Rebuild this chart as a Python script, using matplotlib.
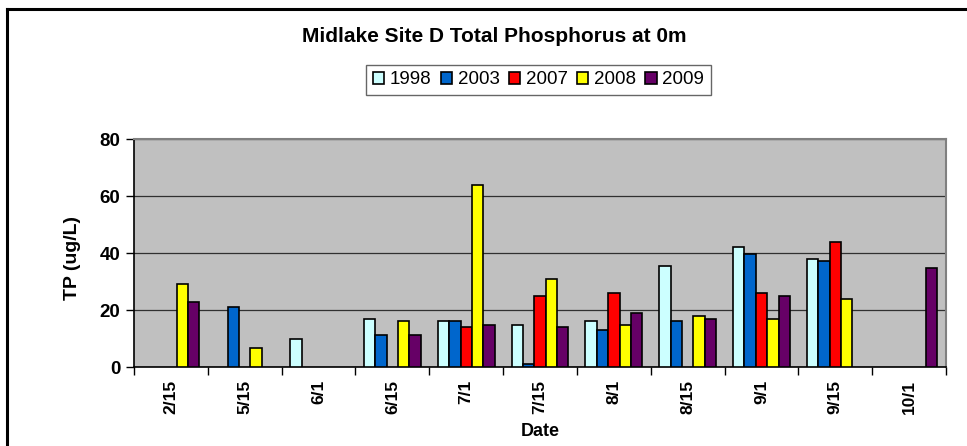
import numpy as np
import matplotlib
matplotlib.use('Agg')
import matplotlib.pyplot as plt
from matplotlib.lines import Line2D

plt.rcParams['font.family'] = ['Liberation Sans', 'DejaVu Sans']

nan = np.nan
dates = ['2/15', '5/15', '6/1', '6/15', '7/1', '7/15', '8/1', '8/15', '9/1', '9/15', '10/1']
years = ['1998', '2003', '2007', '2008', '2009']
tp_1998 = [nan, nan, 9.9, 16.8, 16.1, 14.9, 16.1, 35.3, 42.1, 37.8, nan]
tp_2003 = [nan, 21.0, nan, 11.1, 16.1, 1.2, 12.9, 16.1, 39.6, 37.1, nan]
tp_2007 = [nan, nan, nan, nan, 14.1, 24.8, 25.9, nan, 25.9, 43.9, nan]
tp_2008 = [29.1, 6.7, nan, 16.1, 63.9, 30.9, 14.8, 17.9, 16.7, 24.0, nan]
tp_2009 = [22.9, nan, nan, 11.1, 14.9, 14.1, 19.1, 16.8, 24.8, nan, 34.7]
series = [tp_1998, tp_2003, tp_2007, tp_2008, tp_2009]
colors = ['#CCFFFF', '#0066CC', '#FF0000', '#FFFF00', '#660066']

fig = plt.figure(figsize=(9.67, 4.46), dpi=100)
ax = fig.add_axes([0.1386, 0.1771, 0.8397, 0.5112])
ax.set_facecolor('#C0C0C0')

x = np.arange(len(dates))
w = 1 / 6.5
for i, (vals, c, yr) in enumerate(zip(series, colors, years)):
    ax.bar(x + (i - 2) * w, vals, w, color=c, edgecolor='black', linewidth=1.2,
           label=yr, zorder=3)

ax.set_xlim(-0.5, len(dates) - 0.5)
ax.set_ylim(0, 80)
ax.set_yticks([0, 20, 40, 60, 80])
ax.yaxis.grid(True, color='#303030', linewidth=0.9, zorder=1)
ax.set_axisbelow(True)

# category ticks sit between groups, labels at the centres
ax.set_xticks(np.arange(-0.5, len(dates)), minor=False)
ax.set_xticklabels([])
ax.set_xticks(x, minor=True)
ax.set_xticklabels(dates, minor=True, rotation=90, fontsize=12.5, fontweight='bold')
ax.tick_params(axis='x', which='minor', length=0, pad=9)
ax.tick_params(axis='x', which='major', length=6, width=1, direction='out')
ax.tick_params(axis='y', length=6, width=1, direction='out', labelsize=13.5, pad=4)
for lab in ax.get_yticklabels():
    lab.set_fontweight('bold')

for s in ['top', 'right']:
    ax.spines[s].set_color('#808080')
    ax.spines[s].set_linewidth(1.5)
for s in ['left', 'bottom']:
    ax.spines[s].set_color('black')
    ax.spines[s].set_linewidth(1.2)

fig.text(0.5585, 1 - 432 / 446, 'Date', ha='center', va='center', fontsize=13, fontweight='bold')
fig.text(0.0745, 1 - 258 / 446, 'TP (ug/L)', ha='center', va='center', rotation=90,
         fontsize=14, fontweight='bold')
fig.text(0.511, 1 - 37 / 446, 'Midlake Site D Total Phosphorus at 0m', ha='center', va='center',
         fontsize=15, fontweight='bold')

leg = fig.legend(loc='center', bbox_to_anchor=(0.557, 1 - 80 / 446), ncol=5, fontsize=13.5,
                 frameon=True, fancybox=False, handlelength=0.6, handleheight=0.6,
                 handletextpad=0.3, columnspacing=0.5, borderpad=0.35, borderaxespad=0)
leg.get_frame().set_edgecolor('#404040')
leg.get_frame().set_linewidth(1.0)

# outer chart border (only top and left are in view)
fig.add_artist(Line2D([7 / 967, 1], [1 - 8.5 / 446] * 2, color='black', linewidth=2.2,
                      transform=fig.transFigure))
fig.add_artist(Line2D([7 / 967] * 2, [0, 1 - 8.5 / 446], color='black', linewidth=2.2,
                      transform=fig.transFigure))

fig.savefig('out.png', dpi=100)
